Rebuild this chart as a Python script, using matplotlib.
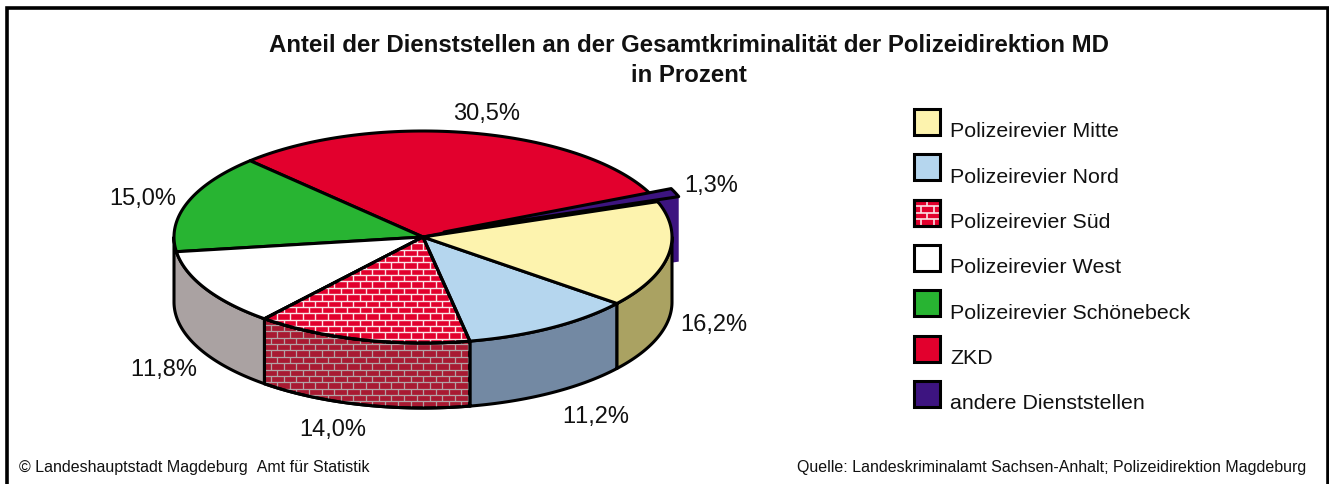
import numpy as np
import matplotlib
matplotlib.use('Agg')
import matplotlib.pyplot as plt
from matplotlib.collections import LineCollection
from matplotlib.patches import Polygon, Rectangle

plt.rcParams['font.family'] = ['Liberation Sans', 'DejaVu Sans']
plt.rcParams['text.kerning_factor'] = 6

# data
categories = ['Polizeirevier Mitte', 'Polizeirevier Nord', 'Polizeirevier Süd', 'Polizeirevier West',
              'Polizeirevier Schönebeck', 'ZKD', 'andere Dienststellen']
values = [16.2, 11.2, 14.0, 11.8, 15.0, 30.5, 1.3]
value_labels = ['16,2%', '11,2%', '14,0%', '11,8%', '15,0%', '30,5%', '1,3%']
top_colors = ['#fdf3ae', '#b5d6ee', '#e2002d', '#ffffff', '#28b432', '#e2002d', '#3d1480']
side_colors = ['#aaa262', '#7389a3', '#a81a32', '#aaa2a2', '#1c8024', '#a81a32', '#3d1480']
label_pos = [(714, 325), (596, 417), (333, 430), (164, 370), (143, 199), (487, 114), (711, 186)]

# pie geometry in pixels
W, H = 1329, 485
cx, cy, rx, ry = 423, 238, 249, 106
depth = 65
start = -19.5
explode = (21, -5)


def arc(t1, t2, n=80, dy=0.0, off=(0, 0)):
    t = np.radians(np.linspace(t1, t2, n))
    return np.column_stack([cx + off[0] + rx * np.cos(t), cy + off[1] + dy + ry * np.sin(t)])


def bricks(ax, clip, x0, y0, x1, y1, color, row=6.35, width=12.7, lw=0.9, zorder=3):
    segs = []
    rows = int((y1 - y0) / row) + 1
    for i in range(rows + 1):
        y = y0 + i * row
        segs.append([(x0, y), (x1, y)])
        x = x0 + (i % 2) * width / 2
        while x < x1:
            segs.append([(x, y), (x, y + row)])
            x += width
    lc = LineCollection(segs, colors=color, linewidths=lw, zorder=zorder)
    ax.add_collection(lc)
    lc.set_clip_path(clip)


fig = plt.figure(figsize=(W / 100, H / 100), dpi=100)
ax = fig.add_axes([0, 0, 1, 1])
ax.set_xlim(0, W)
ax.set_ylim(H, 0)
ax.axis('off')

# frame, no bottom edge in the picture
ax.plot([6.5, 6.5, 1327.5, 1327.5], [H, 8.5, 8.5, H], color='black', lw=2.6, solid_joinstyle='miter', zorder=1)

edge = dict(edgecolor='black', linewidth=2.2, joinstyle='round', zorder=2)

# slice angles (clockwise on screen), yellow first, purple last
angles = np.array(values) / sum(values) * 360
ends = start + np.cumsum(angles)
starts = ends - angles

# wall of the exploded purple slice goes behind everything else
t1, t2 = starts[6], ends[6]
p_top = np.vstack([[(cx + explode[0], cy + explode[1])], arc(t1, t2, 10, off=explode)])
p_end = arc(t2, t2, 1, off=explode)[0]
apex = np.array([cx + explode[0], cy + explode[1]])
ax.add_patch(Polygon([apex, p_end, p_end + (0, depth), apex + (0, depth)], facecolor=side_colors[6],
                     edgecolor='none', zorder=2))

# outer walls, only the front half of the ellipse shows
for i in [3, 2, 1, 0]:
    a = max(starts[i], 0)
    b = 180 if i == 3 else ends[i]
    wall = np.vstack([arc(a, b), arc(b, a, dy=depth)])
    patch = Polygon(wall, facecolor=side_colors[i], **edge)
    ax.add_patch(patch)
    if i == 2:
        bricks(ax, patch, wall[:, 0].min(), wall[:, 1].min(), wall[:, 0].max(), wall[:, 1].max(), '#b3a3a6')
        ax.add_patch(Polygon(wall, facecolor='none', edgecolor='black', linewidth=2.2, zorder=4))

# top faces
for i in [5, 4, 3, 2, 1, 0]:
    top = np.vstack([[(cx, cy)], arc(starts[i], ends[i])])
    patch = Polygon(top, facecolor=top_colors[i], **edge)
    patch.set_zorder(5.6 if i == 0 else 5)
    ax.add_patch(patch)
    if i == 2:
        bricks(ax, patch, top[:, 0].min(), top[:, 1].min(), top[:, 0].max(), top[:, 1].max(), '#fbe3e6',
               lw=1.0, zorder=5)
        ax.add_patch(Polygon(top, facecolor='none', edgecolor='black', linewidth=2.2, zorder=5.1))

# purple top lies over the red slice, under the yellow one
purple = Polygon(p_top, facecolor=top_colors[6], **edge)
purple.set_zorder(5.5)
ax.add_patch(purple)

for lab, (x, y) in zip(value_labels, label_pos):
    ax.text(x, y, lab, fontsize=17, ha='center', va='center', color='#111111', zorder=7)

# title
ax.text(689, 45, 'Anteil der Dienststellen an der Gesamtkriminalität der Polizeidirektion MD', fontsize=17.3,
        fontweight='bold', ha='center', va='center', color='#111111')
ax.text(689, 76, 'in Prozent', fontsize=17.3, fontweight='bold', ha='center', va='center', color='#111111')

# legend
legend_y = 123
legend_step = 45.3
for i, name in enumerate(categories):
    y = legend_y + i * legend_step
    sw = Rectangle((914, y - 13), 26, 26, facecolor=top_colors[i], edgecolor='black', linewidth=2.2, zorder=2)
    ax.add_patch(sw)
    if i == 2:
        bricks(ax, sw, 914, y - 13, 940, y + 13, '#fbe3e6', row=6.5, width=13, lw=1.2, zorder=3)
        ax.add_patch(Rectangle((914, y - 13), 26, 26, facecolor='none', edgecolor='black', linewidth=2.2, zorder=4))
    ax.text(950, y + 9, name, fontsize=15.4, ha='left', va='center', color='#111111')

# footer
ax.text(19, 468, '© Landeshauptstadt Magdeburg  Amt für Statistik', fontsize=11.5, ha='left', va='center', color='#111111')
ax.text(1306, 468, 'Quelle: Landeskriminalamt Sachsen-Anhalt; Polizeidirektion Magdeburg', fontsize=11.5,
        ha='right', va='center', color='#111111')

fig.savefig('out.png', dpi=100, facecolor='white')
